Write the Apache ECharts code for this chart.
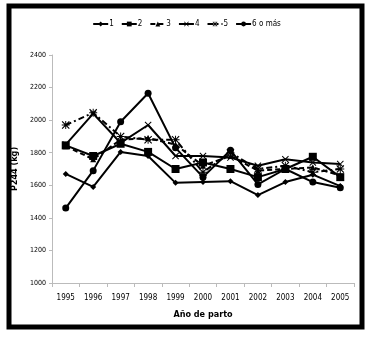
<!DOCTYPE html>
<html>
<head>
<meta charset="utf-8">
<script src="https://cdn.jsdelivr.net/npm/echarts@6/dist/echarts.min.js"></script>
<style>
html, body { margin: 0; padding: 0; background: #fff; }
#chart { width: 373px; height: 338px; }
</style>
</head>
<body>
<div id="chart"></div>
<script>
var years = ['1995', '1996', '1997', '1998', '1999', '2000', '2001', '2002', '2003', '2004', '2005'];
var names = ['1', '2', '3', '4', '5', '6 o más'];
var parto1 = [1670, 1590, 1805, 1780, 1615, 1620, 1625, 1540, 1620, 1665, 1595];
var parto2 = [1845, 1780, 1855, 1805, 1700, 1740, 1700, 1650, 1700, 1775, 1650];
var parto3 = [1840, 1760, 1880, 1890, 1850, 1720, 1780, 1690, 1700, 1710, 1660];
var parto4 = [1850, 2040, 1860, 1970, 1780, 1780, 1770, 1720, 1760, 1740, 1730];
var parto5 = [1970, 2045, 1900, 1880, 1880, 1680, 1800, 1700, 1720, 1680, 1700];
var parto6 = [1460, 1690, 1990, 2165, 1830, 1650, 1815, 1605, 1700, 1620, 1585];

// marcadores en forma de cruz y asterisco
var xPath = 'path://M0,1L1,0L5,4L9,0L10,1L6,5L10,9L9,10L5,6L1,10L0,9L4,5Z';
var starPath = 'path://M0,1L1,0L4.4,3.4L4.4,0L5.6,0L5.6,3.4L9,0L10,1L6.6,4.4L10,4.4L10,5.6L6.6,5.6L10,9L9,10L5.6,6.6L5.6,10L4.4,10L4.4,6.6L1,10L0,9L3.4,5.6L0,5.6L0,4.4L3.4,4.4Z';

var estilos = [
	{ data: parto1, symbol: 'diamond', size: 6, type: 'solid' },
	{ data: parto2, symbol: 'rect', size: 8, type: 'solid' },
	{ data: parto3, symbol: 'triangle', size: 6, type: [5, 3] },
	{ data: parto4, symbol: xPath, size: 7, type: 'solid' },
	{ data: parto5, symbol: starPath, size: 8, type: [6, 3, 2, 3] },
	{ data: parto6, symbol: 'circle', size: 7, type: 'solid' }
];

var series = [];
for (var i = 0; i < estilos.length; i++) {
	var e = estilos[i];
	series.push({
		name: names[i],
		type: 'line',
		data: e.data,
		symbol: e.symbol,
		symbolSize: e.size,
		showAllSymbol: true,
		lineStyle: { color: '#000', width: 2, type: e.type },
		itemStyle: { color: '#000' }
	});
}

var font = 'DejaVu Sans Condensed, Liberation Sans, sans-serif';
var chart = echarts.init(document.getElementById('chart'));
chart.setOption({
	backgroundColor: '#fff',
	animation: false,
	graphic: [{
		type: 'rect',
		shape: { x: 9, y: 6, width: 353, height: 321 },
		style: { fill: 'none', stroke: '#000', lineWidth: 5 }
	}],
	legend: {
		top: 15,
		left: 'center',
		itemWidth: 15,
		itemHeight: 6,
		itemGap: 7,
		textStyle: { fontSize: 8, color: '#000', fontFamily: font, padding: [0, 0, 0, -4] },
		data: names
	},
	grid: { left: 52, right: 19, top: 55, bottom: 55 },
	xAxis: {
		type: 'category',
		data: years,
		boundaryGap: true,
		name: 'Año de parto',
		nameLocation: 'middle',
		nameGap: 27,
		nameTextStyle: { fontSize: 9, fontWeight: 'bold', color: '#000', fontFamily: font },
		axisLine: { lineStyle: { color: '#bbb' } },
		axisTick: { show: true, length: 4, lineStyle: { color: '#bbb' } },
		axisLabel: { fontSize: 8, color: '#000', fontFamily: font, margin: 11 }
	},
	yAxis: {
		type: 'value',
		min: 1000,
		max: 2400,
		interval: 200,
		name: 'P244 (kg)',
		nameLocation: 'middle',
		nameGap: 30,
		nameRotate: 90,
		nameTextStyle: { fontSize: 9, fontWeight: 'bold', color: '#000', fontFamily: font },
		axisLine: { show: true, lineStyle: { color: '#bbb' } },
		axisTick: { show: true, length: 3, lineStyle: { color: '#bbb' } },
		splitLine: { show: false },
		axisLabel: {
			fontSize: 7, color: '#000', fontFamily: font, margin: 6,
			formatter: function (v) { return String(v); }
		}
	},
	series: series
});
</script>
</body>
</html>
